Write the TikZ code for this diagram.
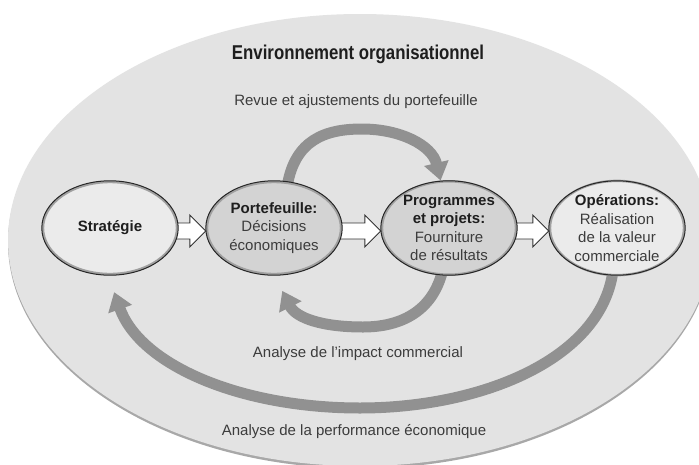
\documentclass[tikz,border=0pt]{standalone}
\usepackage{fontspec}
\setmainfont{Liberation Sans}
\newfontfamily\titlefont{Liberation Sans}[FakeStretch=0.84]
\usetikzlibrary{arrows.meta,calc,shapes.geometric}
\definecolor{bgfill}{HTML}{E3E3E3}
\definecolor{bgrim}{HTML}{A8A8A8}
\definecolor{lightnode}{HTML}{EBEBEB}
\definecolor{darknode}{HTML}{D3D3D3}
\definecolor{rimgray}{HTML}{A0A0A0}
\definecolor{arcgray}{HTML}{919191}
\definecolor{txt}{HTML}{3C3C3C}
\definecolor{ink}{HTML}{1E1E1E}
\pgfdeclarelayer{bglayer}
\pgfdeclarelayer{arclayer}
\pgfsetlayers{bglayer,arclayer,main}
\tikzset{
  stage/.style={ellipse, minimum width=134pt, minimum height=92pt, inner sep=0pt,
    draw=rimgray, line width=2.4pt, align=center,
    font=\fontsize{15}{18.5}\selectfont, text=txt},
  rim/.style={draw=black!85, line width=1pt},
  loopline/.style={draw=arcgray, line width=11pt, -{Triangle[length=18pt,width=24pt]}},
  hollow/.style={draw=black!80, line width=0.9pt, fill=white},
  caption/.style={font=\fontsize{15}{18}\selectfont, text=txt},
}
\newcommand\hollowarrow[2]{%
  \path[hollow] let \p1=(#1.east), \p2=(#2.west) in
   (\x1-4pt,\y1+5pt) -- (\x2-16pt,\y1+5pt) -- (\x2-16pt,\y1+13pt) -- (\x2,\y1-3pt)
   -- (\x2-16pt,\y1-19pt) -- (\x2-16pt,\y1-11pt) -- (\x1-4pt,\y1-11pt) -- cycle;}
\newcommand\bt[1]{{\color{ink}\bfseries #1}}
\begin{document}
\begin{tikzpicture}[x=1pt,y=-1pt]
\useasboundingbox (0,0) rectangle (699,464);
\begin{pgfonlayer}{bglayer}
  \fill[white] (0,0) rectangle (699,464);
  \clip (0,0) rectangle (699,464);
  \fill[bgrim] (360,242.5) ellipse [x radius=352pt, y radius=226pt];
  \fill[bgfill] (360,240) ellipse [x radius=352pt, y radius=226pt];
\end{pgfonlayer}

\node[stage, fill=lightnode] (s) at (110,228) {\bt{Stratégie}};
\node[stage, fill=darknode] (p) at (274,228) {\bt{Portefeuille:}\\Décisions\\économiques};
\node[stage, fill=darknode] (g) at (449,228) {\bt{Programmes}\\\bt{et projets:}\\Fourniture\\de résultats};
\node[stage, fill=lightnode] (o) at (617,228) {\bt{Opérations:}\\Réalisation\\de la valeur\\commerciale};
\foreach \n in {s,p,g,o}
  \draw[rim] (\n.center) ellipse [x radius=68.2pt, y radius=47.2pt];

\node[text=ink, font=\titlefont\bfseries\fontsize{20}{24}\selectfont] (title) at (358,54) {Environnement organisationnel};
\node[caption] (revue) at (356,102) {Revue et ajustements du portefeuille};
\node[caption] (impact) at (358,354) {Analyse de l’impact commercial};
\node[caption] (perf) at (354,432) {Analyse de la performance économique};

\begin{pgfonlayer}{arclayer}
  \hollowarrow{s}{p}
  \hollowarrow{p}{g}
  \hollowarrow{g}{o}
  \draw[loopline] ($(p.74)+(0,4)$) .. controls (295,140) and (325,129) .. (362,129)
     .. controls (400,129) and (432,145) .. (g.100);
  \draw[loopline] ($(g.-98)+(0,-4)$) .. controls (432,312) and (400,327) .. (363,327)
     .. controls (322,327) and (296,318) .. ($(p.-80)+(0,16)$);
  \draw[loopline] ($(o.-95)+(0,-4)$) .. controls (600,360) and (480,408) .. (360,408)
     .. controls (240,408) and (140,365) .. ($(s.-85)+(0,17)$);
\end{pgfonlayer}
\end{tikzpicture}
\end{document}
